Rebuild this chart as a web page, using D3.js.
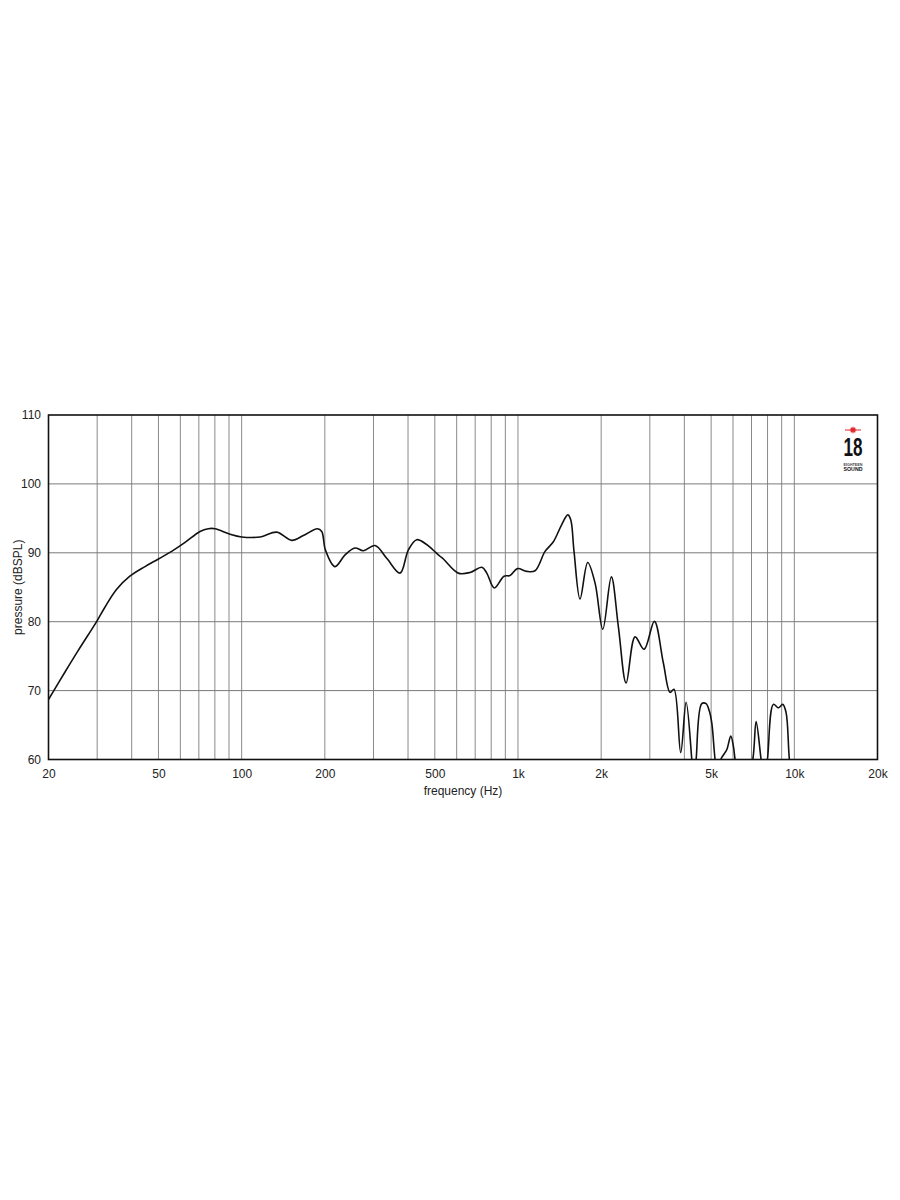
<!DOCTYPE html>
<html>
<head>
<meta charset="utf-8">
<script src="https://cdn.jsdelivr.net/npm/d3@7"></script>
<style>
  html, body { margin: 0; padding: 0; background: #fff; }
  svg { display: block; }
  text { font-family: "Liberation Sans", Arial, Helvetica, sans-serif; }
</style>
</head>
<body>
<svg id="chart" width="900" height="1200"></svg>
<script>
// ---- data ----
const freqHz = [20, 22.95, 25.6, 29.9, 32.0, 35.3, 39.4, 44.7, 50, 55.8, 62.4, 70.7, 75.7, 80.1, 90.8, 100,
  116.6, 134, 151.8, 167.2, 187.9, 194.9, 201, 217.7, 236.7, 257.2, 275.7, 303.9, 335, 374.3, 401, 430, 467, 490,
  522, 537, 608, 671, 740, 771, 821, 890, 936, 995, 1076, 1153, 1253, 1343, 1440, 1514, 1552, 1595, 1677, 1788,
  1901, 2027, 2177, 2308, 2462, 2653, 2860, 3116, 3358, 3551, 3670, 3880, 4059, 4256, 4330, 4413, 4624, 4793,
  4928, 5027, 5167, 5300, 5420, 5569, 5700, 5890, 6020, 6106, 6500, 7076, 7273, 7583, 7780, 7993, 8400, 8757,
  9083, 9337, 9597, 10000];
const splDb = [68.7, 72.7, 75.8, 80.05, 82.1, 84.7, 86.6, 88.0, 89.1, 90.2, 91.5, 93.1, 93.5, 93.5, 92.7, 92.3,
  92.3, 93.0, 91.8, 92.5, 93.5, 93.1, 90.4, 88.0, 89.7, 90.7, 90.3, 91.05, 89.2, 87.05, 90.4, 91.9, 91.2, 90.5,
  89.5, 89.1, 87.05, 87.15, 87.9, 87.05, 84.9, 86.6, 86.7, 87.7, 87.3, 87.4, 90.2, 91.6, 94.1, 95.5, 94.8, 90.2, 83.3, 88.6,
  85.6, 78.9, 86.5, 79.3, 71.1, 77.8, 76.0, 80.05, 74.0, 69.75, 70.2, 61.0, 68.3, 60, 56, 60, 68.1, 68.1,
  67.0, 65.3, 60, 57, 60, 60.8, 61.45, 63.4, 61.9, 60, 54, 60, 65.5, 60, 57, 60, 68.0, 67.5,
  68.0, 66.8, 60, 54];
const xTickValues = [20, 50, 100, 200, 500, 1000, 2000, 5000, 10000, 20000];
const xTickLabels = ["20", "50", "100", "200", "500", "1k", "2k", "5k", "10k", "20k"];
const yTickValues = [60, 70, 80, 90, 100, 110];
const xTitle = "frequency (Hz)";
const yTitle = "pressure (dBSPL)";

// ---- layout ----
const L = 48.5, R = 877.5, T = 415, B = 759.5;
const svg = d3.select("#chart");
const x = d3.scaleLog().domain([20, 20000]).range([L, R]);
const y = d3.scaleLinear().domain([60, 110]).range([B, T]);

// grid
const gridX = x.ticks().filter(d => d > 20 && d < 20000);
svg.append("g").selectAll("line").data(gridX).join("line")
  .attr("x1", d => x(d)).attr("x2", d => x(d)).attr("y1", T).attr("y2", B)
  .attr("stroke", "#8a8a8a").attr("stroke-width", 1);
svg.append("g").selectAll("line").data(yTickValues.filter(d => d > 60 && d < 110)).join("line")
  .attr("x1", L).attr("x2", R).attr("y1", d => y(d)).attr("y2", d => y(d))
  .attr("stroke", "#7a7a7a").attr("stroke-width", 1);

// clip
svg.append("clipPath").attr("id", "plotclip").append("rect")
  .attr("x", L).attr("y", T).attr("width", R - L).attr("height", B - T);

// curve
const pts = freqHz.map((f, i) => [f, splDb[i]]);
const line = d3.line().x(d => x(d[0])).y(d => y(d[1])).curve(d3.curveCatmullRom.alpha(0.5));
svg.append("path").datum(pts).attr("d", line)
  .attr("clip-path", "url(#plotclip)")
  .attr("fill", "none").attr("stroke", "#111").attr("stroke-width", 1.6)
  .attr("stroke-linejoin", "round");

// frame
svg.append("rect").attr("x", L).attr("y", T).attr("width", R - L).attr("height", B - T)
  .attr("fill", "none").attr("stroke", "#111").attr("stroke-width", 1.6);

// axes (labels only)
const xAxis = svg.append("g").attr("transform", `translate(0,${B})`)
  .call(d3.axisBottom(x).tickValues(xTickValues).tickFormat((d, i) => xTickLabels[i]).tickSize(0).tickPadding(9.5));
xAxis.select(".domain").remove();
xAxis.selectAll("text").attr("font-size", 12).attr("fill", "#222")
  .style("font-family", '"Liberation Sans", Arial, sans-serif');

const yAxis = svg.append("g").attr("transform", `translate(${L},0)`)
  .call(d3.axisLeft(y).tickValues(yTickValues).tickSize(0).tickPadding(7.5));
yAxis.select(".domain").remove();
yAxis.selectAll("text").attr("font-size", 12).attr("fill", "#222")
  .style("font-family", '"Liberation Sans", Arial, sans-serif');

// titles
svg.append("text").attr("x", (L + R) / 2).attr("y", 795).attr("text-anchor", "middle")
  .attr("font-size", 12).attr("fill", "#222").text(xTitle);
svg.append("text").attr("transform", `translate(22,${(T + B) / 2}) rotate(-90)`)
  .attr("text-anchor", "middle").attr("font-size", 12).attr("fill", "#222").text(yTitle);

// logo
const logo = svg.append("g");
const sx = 853, sy = 430;
logo.append("line").attr("x1", sx - 8).attr("x2", sx + 8).attr("y1", sy).attr("y2", sy)
  .attr("stroke", "#e0262b").attr("stroke-width", 1);
[0, 45, 90, 135].forEach(a => {
  const r = 3.2, rad = a * Math.PI / 180;
  logo.append("line")
    .attr("x1", sx - r * Math.cos(rad)).attr("x2", sx + r * Math.cos(rad))
    .attr("y1", sy - r * Math.sin(rad)).attr("y2", sy + r * Math.sin(rad))
    .attr("stroke", "#e0262b").attr("stroke-width", 1.2);
});
logo.append("circle").attr("cx", sx).attr("cy", sy).attr("r", 1.8).attr("fill", "#e0262b");
logo.append("text").attr("x", 843.5).attr("y", 456).attr("font-size", 26).attr("font-weight", "bold")
  .attr("textLength", 19).attr("lengthAdjust", "spacingAndGlyphs").attr("fill", "#111").text("18");
logo.append("text").attr("x", 843.5).attr("y", 465.5).attr("font-size", 4).attr("font-weight", "bold")
  .attr("textLength", 19).attr("lengthAdjust", "spacingAndGlyphs").attr("fill", "#444").text("EIGHTEEN");
logo.append("text").attr("x", 843.5).attr("y", 471.2).attr("font-size", 5).attr("font-weight", "bold")
  .attr("textLength", 19).attr("lengthAdjust", "spacingAndGlyphs").attr("fill", "#111").text("SOUND");
</script>
</body>
</html>
